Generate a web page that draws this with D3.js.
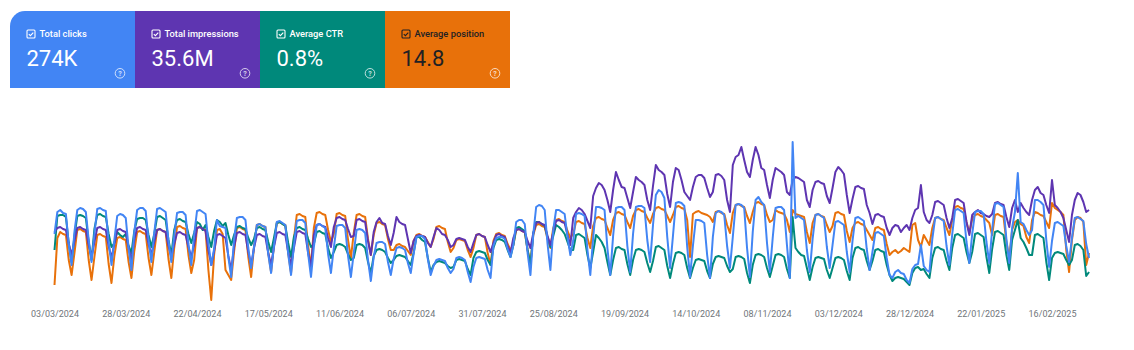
<!DOCTYPE html>
<html><head><meta charset="utf-8">
<script src="https://cdn.jsdelivr.net/npm/d3@7"></script>
<style>
html,body{margin:0;padding:0;background:#fff;}
svg{display:block;font-family:Roboto,"Noto Sans",Arial,sans-serif;}
</style></head>
<body><svg id="chart" width="1134" height="350"></svg>
<script>
// ---- Data (daily, 03/03/2024 .. 01/03/2025), relative index values per metric ----
const startDate = "2024-03-03";
const tickLabels = ["03/03/2024","28/03/2024","22/04/2024","17/05/2024","11/06/2024","06/07/2024","31/07/2024","25/08/2024","19/09/2024","14/10/2024","08/11/2024","03/12/2024","28/12/2024","22/01/2025","16/02/2025"];
const cardTitles = ["Total clicks","Total impressions","Average CTR","Average position"];
const cardValues = ["274K","35.6M","0.8%","14.8"];

const clicks = [
[66,88,90,87,86,56,35],[68,90,92,91,88,60,38],[66,91,92,90,89,58,35],[60,84,86,85,82,52,30],
[68,90,92,92,89,60,38],[67,91,92,90,88,59,38],[64,87,88,88,85,56,35],[65,89,90,88,86,57,35],
[51,80,74,73,72,43,23],[60,82,83,83,80,52,32],[53,75,76,74,73,46,27],[54,78,79,77,75,46,25],
[54,79,80,80,77,46,23],[53,75,76,74,72,46,27],[52,74,75,75,72,44,23],[47,70,71,70,67,40,19],
[43,57,58,58,56,38,25],[41,52,53,52,50,37,27],[46,63,64,64,61,41,25],[34,40,41,40,39,32,27],
[31,42,43,42,40,28,18],[33,42,43,42,41,30,22],[54,62,63,63,61,51,43],[55,78,80,80,76,47,25],
[66,93,95,94,90,56,30],[70,90,90,88,86,63,45],[59,86,87,86,84,50,25],[62,93,93,92,90,52,25],
[64,92,93,93,90,54,28],[66,93,94,94,92,60,38],[75,105,110,108,102,63,32],[64,97,98,97,94,53,23],
[54,80,80,79,77,45,22],[63,87,89,88,85,54,32],[63,95,96,95,92,52,23],[68,100,103,98,95,57,28],
[62,92,93,93,90,55,22],[158,82,84,82,80,50,28],[61,85,86,84,82,53,32],[55,78,79,77,75,48,28],
[59,82,83,81,79,51,30],[48,67,68,66,64,42,25],[22,28,30,27,26,20,17],[31,35,36,55,34,30,28],
[61,82,83,81,79,54,35],[66,90,91,89,87,58,37],[66,88,89,89,86,58,37],[70,96,97,95,93,61,37],
[72,88,127,78,76,70,65],[70,100,100,98,95,60,33],[59,77,78,76,74,54,38],[62,82,83,81,79,56,42]
].flat();

const impressions = [
[68,72,73,71,70,56,45],[59,72,73,71,70,55,43],[58,72,73,71,70,54,42],[56,70,71,69,68,52,40],
[60,72,73,71,70,56,45],[58,70,71,69,68,54,43],[56,67,68,66,65,53,43],[55,72,73,71,69,50,35],
[49,65,66,64,62,44,30],[53,67,68,66,65,48,35],[52,65,66,64,63,47,35],[53,67,68,66,65,48,35],
[52,68,69,67,66,47,33],[65,75,76,74,73,62,53],[73,82,83,81,80,71,63],[64,80,81,79,78,59,45],
[68,78,82,77,76,64,55],[67,83,78,76,75,61,47],[59,64,65,64,63,57,53],[63,72,70,66,65,60,53],
[55,61,62,61,60,53,48],[57,65,66,64,63,55,48],[57,65,66,64,63,54,47],[62,70,71,69,68,59,52],
[67,77,78,76,75,64,55],[68,79,80,78,77,65,55],[82,88,92,90,86,79,72],[104,112,117,115,110,100,88],
[110,128,120,113,112,102,92],[108,123,120,118,115,100,90],[114,135,130,128,125,106,93],[118,132,130,120,108,104,100],
[113,123,125,125,122,112,103],[108,125,126,124,120,100,88],[135,143,145,153,140,128,123],[140,153,145,132,130,115,102],
[120,132,130,128,125,108,105],[120,123,122,120,118,100,93],[110,118,119,117,116,104,97],[112,128,133,130,126,105,87],
[101,113,114,112,111,95,87],[76,85,86,84,83,72,65],[72,75,74,68,72,75,70],[82,90,92,115,88,80,77],
[85,98,99,97,95,82,72],[82,100,101,99,97,78,65],[85,88,90,87,86,84,83],[86,97,98,96,95,83,73],
[92,100,88,97,92,88,85],[100,110,113,107,105,95,87],[120,95,92,88,82,70,58],[85,100,107,105,98,88,90]
].flat();

const ctr = [
[50,84,85,85,83,57,38],[64,84,85,84,82,58,40],[71,85,86,84,83,66,53],[57,68,65,63,66,54,47],
[69,81,82,82,80,65,53],[66,83,84,82,80,60,45],[70,80,81,79,78,66,57],[67,78,76,70,75,63,53],
[69,80,78,74,77,65,55],[65,73,74,72,71,62,55],[61,72,73,71,70,58,48],[62,77,78,76,74,57,43],
[63,72,73,71,70,61,53],[56,68,69,67,66,52,42],[48,55,56,55,53,46,40],[42,55,56,55,52,38,27],
[44,50,51,50,48,42,37],[40,44,45,44,43,39,35],[47,63,63,60,58,42,28],[35,38,39,38,37,34,32],
[33,40,41,40,39,31,25],[42,48,49,48,47,40,35],[52,60,61,60,58,50,43],[55,72,73,71,69,50,35],
[67,78,78,76,74,63,53],[64,75,73,70,66,58,50],[50,65,66,64,62,45,32],[48,65,62,58,52,38,25],
[40,52,53,51,50,36,25],[40,50,51,50,48,37,28],[39,53,54,52,50,34,22],[36,47,48,47,45,32,22],
[32,40,41,40,39,29,22],[36,43,44,43,42,34,28],[31,43,44,43,41,27,17],[35,45,46,45,43,32,23],
[34,45,46,45,43,31,22],[83,52,48,45,44,32,20],[33,42,43,42,41,30,22],[32,42,43,42,40,29,20],
[42,52,53,51,50,39,30],[39,50,51,49,48,35,25],[19,22,23,22,21,18,15],[27,32,33,30,31,26,22],
[42,52,53,51,50,39,30],[52,65,66,64,62,48,37],[48,66,67,65,63,43,27],[51,68,69,67,65,45,30],
[60,70,80,62,58,52,45],[45,65,66,64,62,38,20],[42,47,48,47,46,40,35],[40,55,56,54,50,24,28]
].flat();

const position = [
[15,62,68,66,65,40,25],[47,70,71,69,68,40,20],[43,65,66,64,63,36,17],[44,62,63,61,60,38,22],
[49,68,69,67,66,42,25],[48,70,71,69,68,41,22],[52,73,74,72,71,45,27],[40,72,73,71,70,30,0],
[45,70,71,66,30,25,20],[48,72,73,71,70,43,23],[53,75,76,74,73,47,28],[54,77,78,76,75,47,27],
[61,85,86,84,83,54,33],[72,87,88,86,85,70,58],[66,86,87,85,84,60,42],[67,85,86,84,83,61,45],
[65,77,78,76,75,61,50],[50,55,56,54,53,49,45],[59,65,66,64,63,58,53],[61,73,74,72,71,58,48],
[52,60,61,60,59,50,43],[52,65,66,64,63,47,35],[59,66,67,65,64,56,50],[55,70,71,69,68,50,37],
[65,75,76,74,73,61,52],[72,80,81,79,78,69,62],[66,78,79,77,76,62,52],[74,82,83,81,80,72,65],
[80,87,88,86,85,78,72],[84,90,91,89,88,82,77],[86,92,93,91,90,84,78],[85,93,94,92,91,80,43],
[86,88,89,87,86,85,83],[78,88,89,87,86,75,67],[87,95,96,94,93,84,77],[88,97,98,96,95,85,78],
[80,90,88,87,86,80,68],[90,86,85,84,83,68,57],[77,85,86,84,83,75,68],[74,87,88,86,85,69,58],
[72,77,78,76,75,70,65],[60,72,73,71,70,56,45],[48,50,47,49,52,50,48],[75,77,60,53,65,60,55],
[72,82,83,81,80,72,65],[80,93,94,92,91,78,67],[81,85,86,84,83,80,77],[65,85,86,84,83,58,42],
[70,78,80,76,74,63,57],[80,88,87,85,84,78,72],[97,92,90,88,85,50,28],[60,80,83,82,78,35,47]
].flat();

const colors = ["#4285F4","#5E35B1","#00897B","#E8710A"];

// ---- Drawing ----
const svg = d3.select("#chart");
const parse = d3.utcParse("%Y-%m-%d");
const parseLbl = d3.utcParse("%d/%m/%Y");
const fmt = d3.utcFormat("%d/%m/%Y");
const t0 = parse(startDate);
const dates = clicks.map((_, i) => d3.utcDay.offset(t0, i));

const x = d3.scaleUtc()
  .domain([parseLbl("03/03/2024"), parseLbl("16/02/2025")])
  .range([54.5, 1052]);
const y = d3.scaleLinear().domain([0, 160]).range([300, 140]);

// Cards
const cardW = 125, cardX0 = 10, cardY = 11, cardH = 77;
const cards = svg.append("g");
cardTitles.forEach((t, i) => {
  const g = cards.append("g").attr("transform", `translate(${cardX0 + i*cardW},${cardY})`);
  if (i === 0) {
    const r = 15;
    g.append("path").attr("fill", colors[i])
      .attr("d", `M0,${r} A${r},${r} 0 0 1 ${r},0 L${cardW + 0.5},0 L${cardW + 0.5},${cardH} L0,${cardH} Z`);
  } else {
    g.append("rect").attr("width", cardW + (i < 3 ? 0.5 : 0)).attr("height", cardH).attr("fill", colors[i]);
  }
  const fg = i === 3 ? "#202124" : "#ffffff";
  // checkbox
  const cb = g.append("g").attr("transform", "translate(17,19)");
  cb.append("rect").attr("width", 8).attr("height", 8).attr("rx", 1)
    .attr("fill", "none").attr("stroke", fg).attr("stroke-width", 1.1);
  cb.append("path").attr("d", "M1.8,4.1 L3.4,5.7 L6.3,2.6").attr("fill", "none")
    .attr("stroke", fg).attr("stroke-width", 1.1);
  g.append("text").attr("x", 29.5).attr("y", 26).attr("fill", fg)
    .attr("font-size", 9.3).attr("font-weight", 500).text(t);
  g.append("text").attr("x", 16.5).attr("y", 55).attr("fill", fg)
    .attr("font-size", 22).attr("font-weight", 400).text(cardValues[i]);
  const hg = g.append("g").attr("transform", "translate(110,62.3)").attr("opacity", 0.75);
  hg.append("circle").attr("r", 4.8).attr("fill", "none").attr("stroke", "#ffffff").attr("stroke-width", 1);
  hg.append("text").attr("y", 2.6).attr("text-anchor", "middle").attr("fill", "#ffffff")
    .attr("font-size", 7).attr("font-weight", 700).text("?");
});

// Lines
const series = [
  {vals: position, color: colors[3]},
  {vals: ctr, color: colors[2]},
  {vals: impressions, color: colors[1]},
  {vals: clicks, color: colors[0]}
];
const line = d3.line().x((d, i) => x(dates[i])).y(d => y(d));
series.forEach(s => {
  svg.append("path").datum(s.vals).attr("d", line)
    .attr("fill", "none").attr("stroke", s.color)
    .attr("stroke-width", 2).attr("stroke-linejoin", "round");
});

// X axis labels
const xAxis = d3.axisBottom(x)
  .tickValues(tickLabels.map(parseLbl))
  .tickFormat(fmt).tickSize(0).tickPadding(0);
const ax = svg.append("g").attr("transform", "translate(0,311)").call(xAxis);
ax.select(".domain").remove();
ax.selectAll("text").attr("fill", "#70757a").attr("font-size", 9)
  .attr("font-family", "Roboto, sans-serif");
</script></body></html>
